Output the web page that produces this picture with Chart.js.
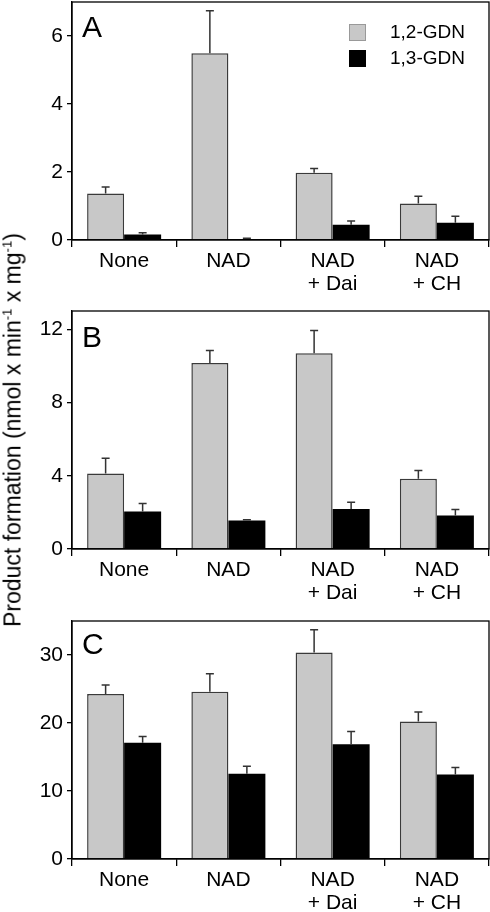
<!DOCTYPE html>
<html>
<head>
<meta charset="utf-8">
<title>Product formation</title>
<script src="https://cdn.jsdelivr.net/npm/chart.js@4/dist/chart.umd.min.js"></script>
<style>
    body { margin: 0; background: #fff; }
    #figura { position: relative; width: 490px; height: 912px; overflow: hidden; }
    #figura canvas { position: absolute; left: 0; }
    #naslov-y {
        position: absolute;
        left: 13px;
        top: 430px;
        transform: translate(-50%, -50%) rotate(-90deg);
        white-space: nowrap;
        font-family: "Liberation Sans", Arial, sans-serif;
        font-size: 23px;
        color: #000;
    }
    #naslov-y sup { font-size: 13px; vertical-align: 9px; line-height: 0; }
</style>
</head>
<body>
<div id="figura">
    <canvas id="panel-a" width="490" height="300" style="top:0px"></canvas>
    <canvas id="panel-b" width="490" height="300" style="top:309px"></canvas>
    <canvas id="panel-c" width="490" height="293" style="top:619px"></canvas>
    <div id="naslov-y">Product formation (nmol x min<sup>-1</sup> x mg<sup>-1</sup>)</div>
</div>
<script>
const categories = ['None', 'NAD', ['NAD', '+ Dai'], ['NAD', '+ CH']];
const seriesNames = ['1,2-GDN', '1,3-GDN'];

// Panel A
const a12 = [1.37, 5.49, 1.98, 1.07];
const a12Err = [0.19, 1.25, 0.12, 0.22];
const a13 = [0.16, 0.03, 0.45, 0.51];
const a13Err = [0.05, 0.02, 0.11, 0.19];
const aTicks = [0, 2, 4, 6];

// Panel B
const b12 = [4.12, 10.16, 10.69, 3.84];
const b12Err = [0.84, 0.68, 1.24, 0.45];
const b13 = [2.05, 1.55, 2.18, 1.83];
const b13Err = [0.44, 0.05, 0.38, 0.33];
const bTicks = [0, 4, 8, 12];

// Panel C
const c12 = [24.26, 24.60, 30.38, 20.22];
const c12Err = [1.32, 2.65, 3.32, 1.38];
const c13 = [17.08, 12.52, 16.89, 12.42];
const c13Err = [0.92, 1.13, 1.86, 1.03];
const cTicks = [0, 10, 20, 30];

const FONT = '"Liberation Sans", Arial, sans-serif';
const SIVA = '#c8c8c8';
const CRNA = '#000000';
const OKVIR = 1.3;

// okvir, slovo panela, legenda i error barovi
const panelExtras = {
    id: 'panelExtras',
    afterDatasetsDraw(chart, args, opts) {
        const ctx = chart.ctx;
        const y = chart.scales.y;
        ctx.save();
        ctx.strokeStyle = '#333';
        ctx.lineWidth = 1.5;
        chart.data.datasets.forEach(function(ds, i) {
            const meta = chart.getDatasetMeta(i);
            meta.data.forEach(function(bar, j) {
                const yTop = y.getPixelForValue(ds.data[j]);
                const yErr = y.getPixelForValue(ds.data[j] + ds.errors[j]);
                ctx.beginPath();
                ctx.moveTo(bar.x, yTop);
                ctx.lineTo(bar.x, yErr);
                ctx.moveTo(bar.x - 4, yErr);
                ctx.lineTo(bar.x + 4, yErr);
                ctx.stroke();
            });
        });
        ctx.restore();
    },
    afterDraw(chart, args, opts) {
        const ctx = chart.ctx;
        const area = chart.chartArea;
        ctx.save();
        ctx.strokeStyle = '#000';
        ctx.lineWidth = OKVIR;
        ctx.strokeRect(area.left, area.top, area.right - area.left, area.bottom - area.top);

        ctx.fillStyle = '#000';
        ctx.font = '30px ' + FONT;
        ctx.textBaseline = 'top';
        ctx.fillText(opts.letter, area.left + 10, area.top + opts.letterTop);

        if (opts.legend) {
            ctx.font = '19px ' + FONT;
            ctx.textBaseline = 'middle';
            chart.data.datasets.forEach(function(ds, i) {
                const sy = area.top + 22 + i * 26;
                ctx.fillStyle = ds.backgroundColor;
                ctx.fillRect(area.left + 277, sy, 17, 17);
                ctx.strokeStyle = i === 0 ? '#999' : '#000';
                ctx.lineWidth = 1;
                ctx.strokeRect(area.left + 277.5, sy + 0.5, 16, 16);
                ctx.fillStyle = '#000';
                ctx.fillText(ds.label, area.left + 318, sy + 9);
            });
        }
        ctx.restore();
    }
};

function napraviPanel(id, gray, grayErr, black, blackErr, ticks, max, letter, letterTop, legend) {
    const canvas = document.getElementById(id);
    const xHeight = canvas.height - 2 - 238;
    return new Chart(canvas, {
        type: 'bar',
        data: {
            labels: categories,
            datasets: [{
                label: seriesNames[0],
                data: gray,
                errors: grayErr,
                backgroundColor: SIVA,
                borderColor: '#3a3a3a',
                borderWidth: 1.5
            }, {
                label: seriesNames[1],
                data: black,
                errors: blackErr,
                backgroundColor: CRNA,
                borderColor: CRNA,
                borderWidth: 0
            }]
        },
        options: {
            responsive: false,
            animation: false,
            devicePixelRatio: 1,
            layout: { padding: { top: 2, right: 1, left: 0, bottom: 0 } },
            datasets: { bar: { barPercentage: 1, categoryPercentage: 0.71 } },
            plugins: {
                legend: { display: false },
                tooltip: { enabled: false },
                panelExtras: { letter: letter, letterTop: letterTop, legend: legend }
            },
            scales: {
                x: {
                    grid: { offset: true, drawOnChartArea: false, tickLength: 7, color: '#000', lineWidth: OKVIR },
                    border: { color: '#000', width: OKVIR },
                    ticks: {
                        color: '#000',
                        font: { family: FONT, size: 21, lineHeight: 1.12 },
                        padding: 2,
                        maxRotation: 0,
                        autoSkip: false
                    },
                    afterFit: function(scale) {
                        scale.height = xHeight;
                        scale.paddingLeft = 0;
                        scale.paddingRight = 0;
                    }
                },
                y: {
                    min: 0,
                    max: max,
                    grid: { drawOnChartArea: false, tickLength: 5, color: '#000', lineWidth: OKVIR },
                    border: { color: '#000', width: OKVIR },
                    ticks: {
                        color: '#000',
                        font: { family: FONT, size: 21 },
                        padding: 4,
                        stepSize: ticks[1] - ticks[0]
                    },
                    afterBuildTicks: function(scale) {
                        scale.ticks = ticks.map(function(v) { return { value: v }; });
                    },
                    afterFit: function(scale) {
                        scale.width = 72;
                        scale.paddingTop = 0;
                        scale.paddingBottom = 0;
                    }
                }
            }
        },
        plugins: [panelExtras]
    });
}

document.addEventListener('DOMContentLoaded', function() {
    napraviPanel('panel-a', a12, a12Err, a13, a13Err, aTicks, 7, 'A', 12, true);
    napraviPanel('panel-b', b12, b12Err, b13, b13Err, bTicks, 13, 'B', 13, false);
    napraviPanel('panel-c', c12, c12Err, c13, c13Err, cTicks, 35, 'C', 10, false);
});
</script>
</body>
</html>
